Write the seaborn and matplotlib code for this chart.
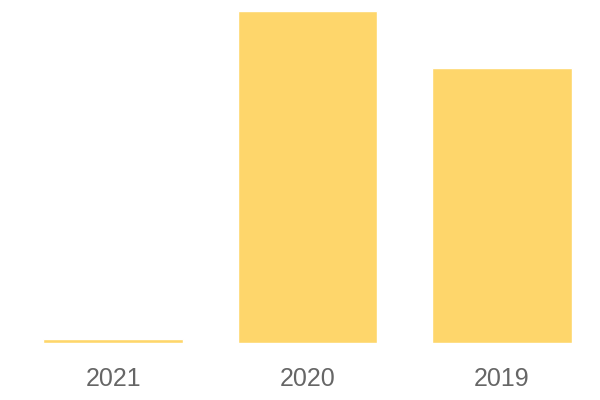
import pandas as pd
import matplotlib
matplotlib.use("Agg")
import matplotlib.pyplot as plt
import seaborn as sns

#Data
years = ["2021", "2020", "2019"]
values = [1.1, 100.0, 82.7]

df = pd.DataFrame({"year": years, "value": values})

sns.set_theme(style="white")
plt.rcParams["font.family"] = ["Liberation Sans", "DejaVu Sans"]

fig = plt.figure(figsize=(6, 4), dpi=100)
ax = fig.add_axes([16 / 600, 57 / 400, 583 / 600, 332 / 400])

sns.barplot(data=df, x="year", y="value", color="#FED66B", saturation=1,
            width=0.72, ax=ax)

#Editing the Plot
ax.set_ylim(0, 100)
ax.set_xlim(-0.5, 2.5)
ax.set_xlabel("")
ax.set_ylabel("")
ax.set_yticks([])
ax.tick_params(axis="x", length=0, pad=17.5, labelsize=18, labelcolor="#666666")
sns.despine(left=True, bottom=True)

fig.savefig("out.png", dpi=100)
